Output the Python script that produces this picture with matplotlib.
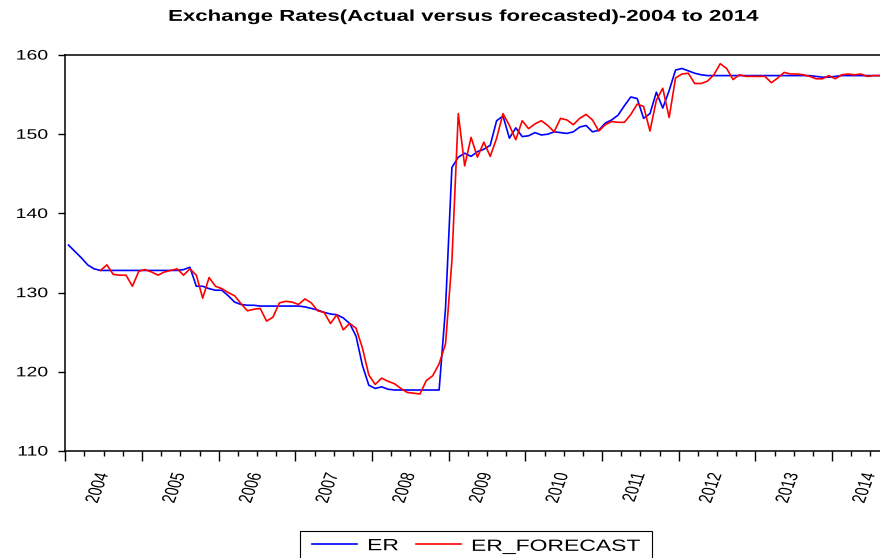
import numpy as np
import matplotlib
matplotlib.use("Agg")
import matplotlib.pyplot as plt
from matplotlib.patches import Rectangle
from matplotlib.patheffects import AbstractPathEffect
from matplotlib.transforms import Affine2D

plt.rcParams['font.family'] = ['Liberation Sans', 'DejaVu Sans']

nan = np.nan

# monthly, 2004M01 .. 2014M08
years = ['2004', '2005', '2006', '2007', '2008', '2009', '2010', '2011', '2012', '2013', '2014']

er = [136.0, 135.2, 134.4, 133.5, 133.0, 132.8, 132.8, 132.8, 132.8, 132.8,
      132.8, 132.8, 132.8, 132.8, 132.8, 132.8, 132.8, 132.8, 132.9, 133.2,
      130.8, 130.8, 130.5, 130.3, 130.3, 129.6, 128.8, 128.5, 128.4, 128.4,
      128.3, 128.3, 128.3, 128.3, 128.3, 128.3, 128.3, 128.2, 128.0, 127.8,
      127.5, 127.3, 127.2, 126.8, 126.1, 124.5, 120.8, 118.3, 117.9, 118.1,
      117.8, 117.7, 117.7, 117.7, 117.7, 117.7, 117.7, 117.7, 117.7, 128.0,
      145.8, 147.1, 147.6, 147.2, 147.8, 148.1, 148.6, 151.7, 152.3, 149.5,
      150.8, 149.7, 149.8, 150.2, 149.9, 150.0, 150.3, 150.2, 150.1, 150.3,
      150.9, 151.1, 150.3, 150.5, 151.4, 151.8, 152.4, 153.6, 154.7, 154.5,
      152.0, 152.6, 155.3, 153.3, 155.5, 158.1, 158.3, 158.0, 157.7, 157.5,
      157.4, 157.4, 157.4, 157.4, 157.4, 157.4, 157.4, 157.4, 157.4, 157.4,
      157.4, 157.4, 157.4, 157.4, 157.4, 157.4, 157.4, 157.3, 157.2, 157.2,
      157.3, 157.4, 157.4, 157.4, 157.4, 157.4, 157.4, 157.4]

er_forecast = [nan, nan, nan, nan, nan,
               132.8, 133.5, 132.3, 132.2, 132.2, 130.8, 132.7, 132.9, 132.6, 132.2,
               132.6, 132.8, 133.0, 132.2, 133.0,
               132.2, 129.3, 131.9, 130.8, 130.5, 130.0, 129.6, 128.6, 127.7, 127.9,
               128.0, 126.4, 126.9, 128.7, 128.9, 128.8, 128.5, 129.2, 128.7, 127.7,
               127.5, 126.1, 127.2, 125.3, 126.1, 125.5, 123.0, 119.6, 118.4, 119.2,
               118.8, 118.5, 117.9, 117.4, 117.3, 117.2, 118.9, 119.5, 121.0, 123.5,
               134.0, 152.6, 146.0, 149.6, 147.1, 149.0, 147.2, 149.5, 152.6, 151.1,
               149.3, 151.7, 150.7, 151.3, 151.7, 151.1, 150.3, 152.0, 151.8, 151.2,
               152.0, 152.5, 151.8, 150.4, 151.2, 151.6, 151.5, 151.5, 152.5, 153.8,
               153.5, 150.4, 154.3, 155.8, 152.1, 157.1, 157.6, 157.7, 156.4, 156.4,
               156.7, 157.5, 158.9, 158.3, 156.9, 157.5, 157.3, 157.3, 157.3, 157.3,
               156.5, 157.1, 157.8, 157.6, 157.6, 157.5, 157.3, 157.0, 157.0, 157.4,
               157.0, 157.5, 157.6, 157.5, 157.6, 157.3, 157.4, 157.4]


class Squash(AbstractPathEffect):
    # the source picture is stretched sideways, so text is drawn wide and flattened
    def __init__(self, sy=0.71, dy=0.0):
        super().__init__()
        self.sy = sy
        self.dy = dy

    def draw_path(self, renderer, gc, tpath, affine, rgbFace=None):
        ext = tpath.get_extents()
        cx, cy = affine.transform(((ext.x0 + ext.x1) / 2, (ext.y0 + ext.y1) / 2))
        t = affine + Affine2D().translate(-cx, -cy).scale(1, self.sy).translate(cx, cy + self.dy)
        renderer.draw_path(gc, tpath, t, rgbFace)


W, H = 880, 558
fig = plt.figure(figsize=(W / 100, H / 100), dpi=100)
ax = fig.add_axes([65 / W, 1 - 451 / H, 815 / W, 396 / H])

x = np.arange(len(er))
ax.plot(x, er, color='#0000ff', lw=1.2, label='ER')
ax.plot(x, er_forecast, color='#ff0000', lw=1.2, label='ER_FORECAST')

ax.set_xlim(-0.55, 127)
ax.set_ylim(110, 160)
ax.set_yticks([110, 120, 130, 140, 150, 160])
ax.set_xticks(np.arange(-0.5, len(er), 12), [])
ax.set_xticks(np.arange(-0.5, len(er), 3), minor=True)
ax.tick_params(axis='y', length=5, width=1, pad=7, labelsize=14)
ax.tick_params(axis='x', which='major', length=7, width=1)
ax.tick_params(axis='x', which='minor', length=3.5, width=1)
for s in ['left', 'bottom', 'top']:
    ax.spines[s].set_linewidth(1.1)
ax.spines['right'].set_visible(False)

sec = ax.secondary_xaxis('bottom')
sec.set_xticks(np.arange(4.7, len(er), 12), years)
sec.tick_params(length=0, pad=10, labelsize=14, labelrotation=75)
sec.spines['bottom'].set_visible(False)

fig.text(463 / W, 1 - 17 / H, 'Exchange Rates(Actual versus forecasted)-2004 to 2014',
         ha='center', va='center', fontsize=16, fontweight='bold',
         path_effects=[Squash()])

# legend box runs off the bottom of the picture, as in the source
leg = fig.legend(loc='upper center', bbox_to_anchor=(476 / W, 1 - 536 / H), ncol=2,
                 fontsize=16.5, frameon=False, borderpad=0, handlelength=1.95,
                 handletextpad=0.45, columnspacing=0.75, borderaxespad=0)
for t in leg.get_texts():
    t.set_path_effects([Squash(dy=1.5)])
for ln in leg.get_lines():
    ln.set_path_effects([Squash(sy=1, dy=1.5)])

fig.canvas.draw()
for lbl in ax.get_yticklabels() + sec.get_xticklabels():
    lbl.set_path_effects([Squash()])

bb = leg.get_window_extent()
fig.add_artist(Rectangle(((bb.x0 - 12) / W, -0.02), (bb.width + 24) / W, (H - 531) / H + 0.02,
                         transform=fig.transFigure, fill=False, edgecolor='black',
                         lw=0.8, clip_on=False))

fig.savefig('out.png', dpi=100)
